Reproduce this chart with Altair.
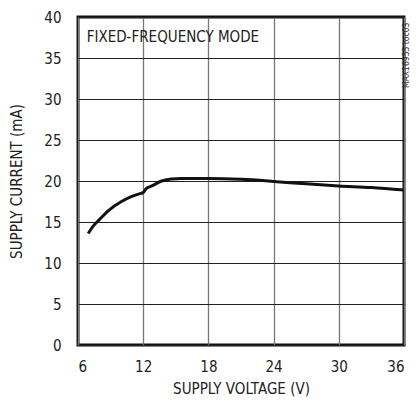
import altair as alt
import pandas as pd

voltage = [6.94, 7.4, 7.9, 8.8, 10.0, 10.9, 11.7, 12.0, 12.3, 12.8, 13.7, 14.6, 15.5, 18.0, 21.0, 24.0, 27.0, 30.0, 33.0, 36.0]
current = [13.6, 14.5, 15.2, 16.4, 17.5, 18.1, 18.45, 18.6, 19.1, 19.4, 20.0, 20.25, 20.3, 20.3, 20.2, 19.95, 19.65, 19.4, 19.2, 18.9]

x_ticks = [6, 12, 18, 24, 30, 36]
y_ticks = [0, 5, 10, 15, 20, 25, 30, 35, 40]

FONT = "DejaVu Sans Condensed"

df = pd.DataFrame({"v": voltage, "i": current})

x_scale = alt.Scale(domain=[6, 36], nice=False, zero=False)
y_scale = alt.Scale(domain=[0, 40], nice=False)

line = alt.Chart(df).mark_line(color="#111", strokeWidth=3, interpolate="monotone").encode(
    x=alt.X("v:Q", scale=x_scale,
            axis=alt.Axis(values=x_ticks, title="SUPPLY VOLTAGE (V)", grid=True,
                          gridColor="#777", gridWidth=1.3, tickSize=0, labelPadding=14,
                          titlePadding=7, domain=False)),
    y=alt.Y("i:Q", scale=y_scale,
            axis=alt.Axis(values=y_ticks, title="SUPPLY CURRENT (mA)", grid=True,
                          gridColor="#222", gridWidth=1, tickSize=0, labelPadding=17,
                          titlePadding=19, domain=False)),
)

label = alt.Chart(pd.DataFrame({"v": [6.8], "i": [37.6], "t": ["FIXED-FREQUENCY MODE"]})).mark_text(
    align="left", baseline="middle", font=FONT, fontSize=15, color="#222"
).encode(x=alt.X("v:Q", scale=x_scale), y=alt.Y("i:Q", scale=y_scale), text="t:N")

water = alt.Chart(pd.DataFrame({"t": ["MAX16955 toc03"]})).mark_text(
    angle=270, align="left", baseline="bottom", font=FONT, fontSize=8.5, color="#333"
).encode(x=alt.value(333), y=alt.value(71), text="t:N")

chart = alt.layer(line, label, water).properties(
    width=326, height=328,
    autosize=alt.AutoSizeParams(type="none"),
    padding={"left": 70, "top": 9, "right": 7, "bottom": 53},
).configure_view(
    stroke="#111", strokeWidth=3
).configure_axis(
    labelFont=FONT, titleFont=FONT, labelFontSize=15, titleFontSize=15,
    labelColor="#222", titleColor="#222", titleFontWeight="normal"
)

chart.save("out.html", embed_options={"renderer": "svg", "actions": False})
